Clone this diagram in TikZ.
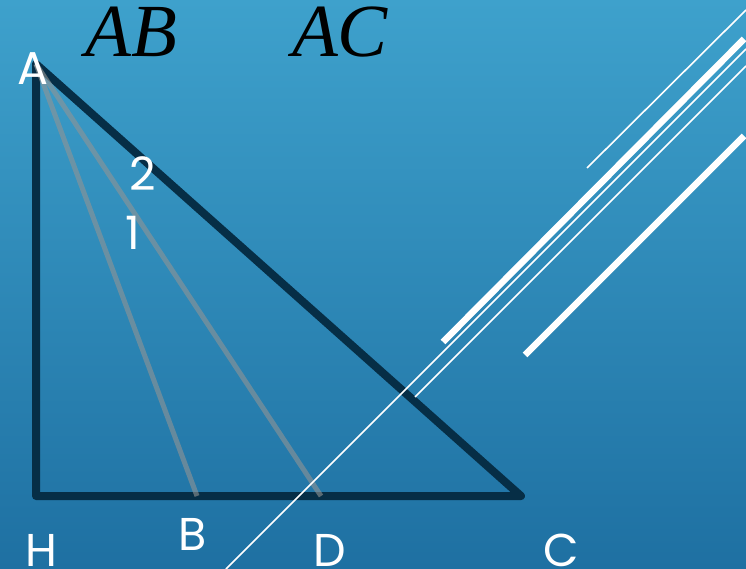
\documentclass[tikz,border=0pt]{standalone}
\usepackage{fontspec}
\newfontfamily\labelfont{Poppins}
\newfontfamily\ratiofont{Liberation Serif}
\usetikzlibrary{positioning}
\definecolor{bgtop}{RGB}{62,161,204}
\definecolor{bgbottom}{RGB}{30,112,162}
\definecolor{edgedark}{RGB}{6,46,70}
\definecolor{cevian}{RGB}{146,148,148}

\begin{document}
\begin{tikzpicture}[
    x=1pt, y=-1pt,
    side/.style={draw=edgedark, line width=8pt, line join=round, line cap=round},
    cevianline/.style={draw=cevian, line width=5pt, opacity=0.6},
    thinstripe/.style={draw=white, line width=1.6pt},
    thickstripe/.style={draw=white, line width=6.5pt},
    vertex/.style={text=white, inner sep=0pt, font=\labelfont\fontsize{46}{48}\selectfont},
    ratio/.style={text=black, inner sep=0pt, font=\ratiofont\itshape\fontsize{75}{80}\selectfont}
]
    % background
    \shade[top color=bgtop, bottom color=bgbottom] (0,0) rectangle (746,569);
    \useasboundingbox (0,0) rectangle (746,569);

    \coordinate (A) at (36,64);
    \coordinate (H) at (36,496);
    \coordinate (C) at (521,496);
    \coordinate (B) at (197,496);
    \coordinate (D) at (321,496);

    % triangle and the two lines from A
    \draw[side] (A) -- (H) -- (C) -- cycle;
    \draw[cevianline] (A) -- (B);
    \draw[cevianline] (A) -- (D);

    % white stripes
    \coordinate (s1a) at (746,10);  \coordinate (s1b) at (587,168);
    \coordinate (s2a) at (744,39);  \coordinate (s2b) at (443,342);
    \coordinate (s3a) at (746,49);  \coordinate (s3b) at (226,569);
    \coordinate (s4a) at (746,66);  \coordinate (s4b) at (415,397);
    \coordinate (s5a) at (744,136); \coordinate (s5b) at (525,355);
    \draw[thinstripe] (s1a) -- (s1b);
    \draw[thickstripe] (s2a) -- (s2b);
    \draw[thinstripe] (s3a) -- (s3b);
    \draw[thinstripe] (s4a) -- (s4b);
    \draw[thickstripe] (s5a) -- (s5b);

    % labels
    \node[vertex] (lA) at (33,69) {A};
    \node[vertex] (lH) at (41,550) {H};
    \node[vertex] (lB) at (193,534) {B};
    \node[vertex] (lD) at (330,550) {D};
    \node[vertex] (lC) at (561,550) {C};
    \node[vertex] (ltwo) at (143,174) {2};
    \node[vertex] (lone) at (133,233) {1};

    \node[ratio] (ab) at (131,32) {AB};
    \node[ratio] (ac) at (340,32) {AC};
\end{tikzpicture}
\end{document}
